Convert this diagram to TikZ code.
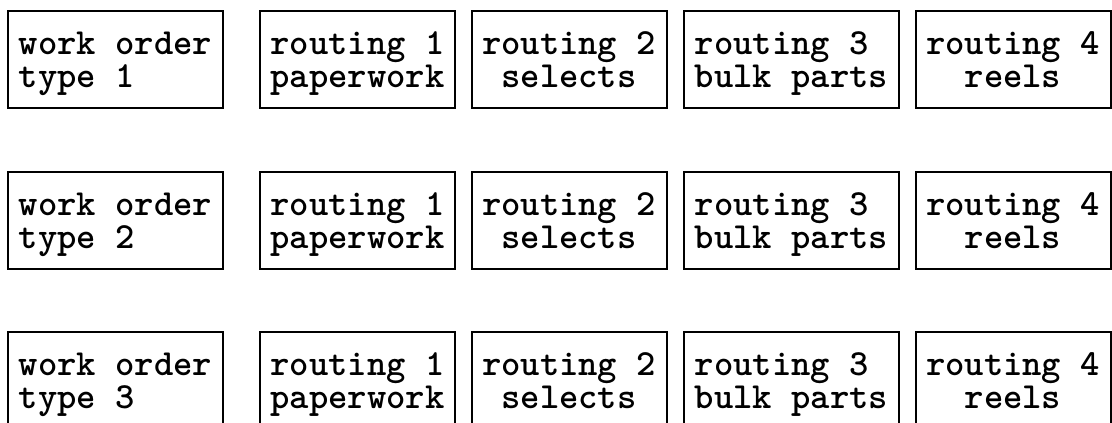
\documentclass[tikz,border=0pt]{standalone}
\usepackage{fontspec}
\begin{document}
\begin{tikzpicture}[x=0.75pt,y=-0.75pt,
  frame/.style={draw, line width=1.5pt, inner sep=0pt, minimum height=97*0.75pt},
  wide/.style={frame, minimum width=215*0.75pt},
  narrow/.style={frame, minimum width=195*0.75pt},
  txt/.style={inner sep=0pt, font=\ttfamily\bfseries\fontsize{27.6}{23.4}\selectfont},
  lefttext/.style={txt, align=left},
  midtext/.style={txt, align=center}]
\useasboundingbox (0,0) rectangle (1112,423);
\foreach \r/\y in {1/59.5, 2/220.5, 3/380.5} {
  % frames of one row
  \node[wide]   (wo\r) at (115.5,\y) {};
  \node[narrow] (ra\r) at (357.5,\y) {};
  \node[narrow] (rb\r) at (569,\y)   {};
  \node[wide]   (rc\r) at (791.5,\y) {};
  \node[narrow] (rd\r) at (1013,\y)  {};
  % two-line captions, lowered slightly inside each frame
  \node[lefttext] (wo\r t) at ([yshift=-3.75pt]wo\r.center) {work order\strut\\type \r\strut};
  \node[midtext]  (ra\r t) at ([yshift=-3.75pt]ra\r.center) {routing 1\strut\\paperwork\strut};
  \node[midtext]  (rb\r t) at ([yshift=-3.75pt]rb\r.center) {routing 2\strut\\selects\strut};
  \node[lefttext] (rc\r t) at ([yshift=-3.75pt]rc\r.center) {routing 3\strut\\bulk parts\strut};
  \node[midtext]  (rd\r t) at ([yshift=-3.75pt]rd\r.center) {routing 4\strut\\reels\strut};
}
\end{tikzpicture}
\end{document}
